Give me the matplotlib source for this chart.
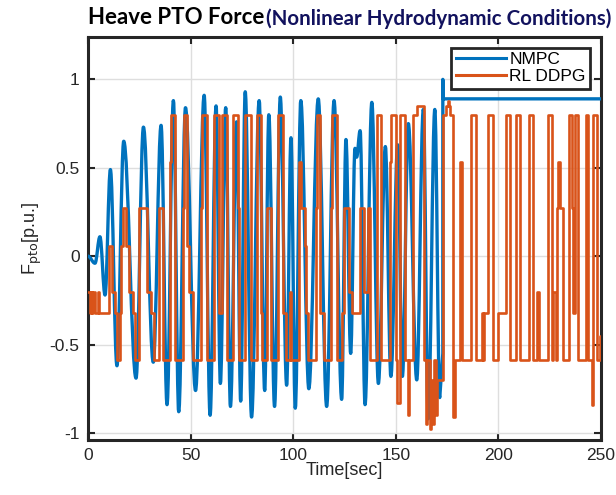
import matplotlib
matplotlib.use('Agg')
import matplotlib.pyplot as plt
from matplotlib.path import Path
from matplotlib.patches import PathPatch
from matplotlib.lines import Line2D

# NMPC: peaks and troughs (time [s], force [p.u.])
T_NMPC = [0.0, 3.4, 5.8, 8.3, 10.9, 14.1, 17.4, 23.4, 27.0, 31.8, 35.6, 38.5,
          41.6, 44.2, 47.5, 52.4, 56.6, 59.5, 62.4, 64.5, 67.1, 69.4, 72.4,
          74.4, 76.6, 79.7, 83.4, 86.1, 88.1, 90.9, 93.7, 96.8, 98.9, 101.0,
          103.7, 107.6, 112.2, 116.3, 119.9, 123.6, 125.7, 128.0, 130.1,
          130.9, 132.6, 135.0, 138.3, 141.5, 144.9, 147.6, 150.9, 153.2,
          156.1, 160.2, 163.4, 165.8, 169.0, 171.4]
V_NMPC = [0.0, -0.04, 0.11, -0.22, 0.49, -0.62, 0.65, -0.69, 0.73, -0.60,
          0.74, -0.84, 0.88, -0.88, 0.84, -0.76, 0.91, -0.90, 0.85, -0.72,
          0.84, -0.85, 0.76, -0.82, 0.93, -0.91, 0.88, -0.76, 0.80, -0.85,
          0.90, -0.73, 0.67, -0.86, 0.88, -0.75, 0.89, -0.85, 0.88, -0.81,
          0.66, -0.55, 0.61, 0.56, 0.71, -0.84, 0.87, -0.72, 0.62, -0.68,
          0.63, -0.68, 0.75, -0.70, 0.83, -0.92, 0.83, -0.80]
# NMPC after the jump (straight segments)
T_NMPC_TAIL = [172.9, 172.9, 173.0, 250.0]
V_NMPC_TAIL = [-0.55, 1.0, 0.89, 0.89]

# RL DDPG: piecewise constant, value holds from each time to the next
T_RL = [0.0, 0.8, 1.4, 2.0, 2.6, 3.2, 4.7, 5.4, 10.1, 11.8, 13.3, 14.1,
        15.6, 16.2, 16.8, 18.6, 20.1, 21.8, 22.8, 25.0, 28.5, 30.6, 32.3,
        34.4, 36.6, 40.1, 40.5, 42.6, 46.1, 46.6, 48.2, 49.2, 51.0, 55.2,
        55.7, 58.0, 61.5, 63.7, 65.1, 67.5, 70.6, 73.0, 73.6, 76.3, 76.7,
        79.2, 82.5, 84.4, 85.0, 87.3, 89.4, 92.5, 95.0, 96.4, 98.2, 99.0,
        103.0, 104.0, 105.5, 106.2, 107.0, 110.9, 111.4, 113.2, 115.0,
        118.4, 119.0, 121.1, 124.0, 124.5, 127.4, 128.6, 132.5, 134.3,
        136.2, 137.4, 140.9, 142.9, 147.3, 147.6, 149.9, 150.4, 151.9,
        154.6, 156.0, 156.6, 158.3, 160.5, 163.5, 164.6, 165.3, 166.5,
        167.2, 168.0, 168.8, 169.6, 170.3, 172.9, 174.6, 175.2, 175.9,
        176.4, 177.8, 178.6, 181.3, 182.1, 186.5, 189.1, 191.8, 192.4,
        193.0, 194.8, 197.2, 199.9, 203.7, 205.6, 208.6, 210.5, 215.1,
        216.7, 219.0, 219.8, 224.0, 226.0, 226.8, 228.0, 228.4, 229.2,
        229.9, 231.7, 234.6, 235.7, 236.4, 237.3, 239.0, 242.5, 243.8,
        245.4, 245.9, 246.3, 247.9, 249.5, 250.0]
V_RL = [-0.20, -0.32, -0.20, -0.32, -0.20, -0.32, -0.20, -0.32, 0.06, -0.20,
        -0.32, -0.59, -0.32, 0.06, 0.27, 0.06, -0.20, -0.32, -0.59, 0.27,
        -0.20, -0.32, -0.59, 0.27, -0.59, 0.53, 0.80, -0.59, 0.27, 0.80,
        0.06, -0.20, -0.59, 0.27, 0.80, -0.59, 0.80, -0.32, 0.80, -0.59,
        0.80, 0.27, -0.59, 0.53, 0.80, -0.59, 0.80, -0.32, -0.59, 0.27,
        -0.59, 0.80, -0.32, -0.59, -0.20, -0.59, 0.53, 0.27, 0.06, -0.32,
        -0.59, 0.27, 0.80, -0.32, -0.59, 0.27, 0.80, -0.59, -0.32, 0.27,
        -0.20, -0.32, 0.27, -0.20, 0.27, -0.59, 0.80, -0.59, 0.53, 0.80,
        -0.59, -0.83, 0.80, -0.59, -0.90, -0.59, 0.80, 0.85, -0.59, -0.95,
        -0.59, -0.98, -0.70, -0.95, -0.59, -0.90, -0.70, 0.80, 0.85, 0.88,
        0.85, 0.80, -0.91, -0.59, 0.53, -0.59, 0.80, -0.59, -0.32, -0.59,
        -0.32, 0.80, -0.59, -0.32, 0.80, -0.59, 0.80, -0.59, 0.80, -0.59,
        -0.20, -0.59, 0.80, -0.59, -0.20, -0.59, 0.27, 0.53, 0.27, -0.59,
        0.80, 0.27, -0.32, 0.80, -0.59, 0.80, -0.59, -0.84, -0.59, 0.80,
        -0.59, -0.45, -0.45]

X_TICKS = [0, 50, 100, 150, 200, 250]
Y_TICKS = [-1, -0.5, 0, 0.5, 1]
Y_TICK_LABELS = ['-1', '-0.5', '0', '0.5', '1']
LABELS = ['NMPC', 'RL DDPG']

BLUE = '#0072BD'
ORANGE = '#D95319'


def wave_path(ts, vs, tail_t, tail_v, k=0.37):
    # smooth half-waves between consecutive extrema (flat tangent at each)
    verts = [(ts[0], vs[0])]
    codes = [Path.MOVETO]
    for t0, v0, t1, v1 in zip(ts[:-1], vs[:-1], ts[1:], vs[1:]):
        dt = t1 - t0
        verts += [(t0 + k * dt, v0), (t1 - k * dt, v1), (t1, v1)]
        codes += [Path.CURVE4] * 3
    for t, v in zip(tail_t, tail_v):
        verts.append((t, v))
        codes.append(Path.LINETO)
    return Path(verts, codes)


plt.rcParams['font.family'] = ['Liberation Sans', 'DejaVu Sans']

fig = plt.figure(figsize=(6.16, 4.95), dpi=100)
ax = fig.add_axes([0.1429, 0.1111, 0.8328, 0.8142])

ax.add_patch(PathPatch(wave_path(T_NMPC, V_NMPC, T_NMPC_TAIL, V_NMPC_TAIL),
                       fill=False, edgecolor=BLUE, lw=2.4, zorder=3,
                       joinstyle='round', capstyle='round'))
ax.step(T_RL, V_RL, where='post', color=ORANGE, lw=1.9, zorder=4)

ax.set_xlim(0, 250)
ax.set_ylim(-1.04, 1.24)
ax.set_xticks(X_TICKS)
ax.set_xticklabels([str(x) for x in X_TICKS])
ax.set_yticks(Y_TICKS)
ax.set_yticklabels(Y_TICK_LABELS)
ax.tick_params(direction='in', top=True, right=True, length=5, width=1.5,
               labelsize=12.5, pad=6, colors='#262626')
ax.grid(True, color='#dedede', lw=1)
ax.set_axisbelow(True)
for s in ax.spines.values():
    s.set_linewidth(2.2)
    s.set_color('#262626')

ax.set_xlabel('Time[sec]', fontsize=13, color='#262626', labelpad=-1)
ax.set_ylabel(r'F$_{\mathrm{pto}}$[p.u.]', fontsize=13, color='#262626',
              labelpad=4)

handles = [Line2D([], [], color=BLUE, lw=2.2), Line2D([], [], color=ORANGE, lw=2.2)]
leg = ax.legend(handles, LABELS, loc='upper right', bbox_to_anchor=(0.9786, 0.9727),
                borderaxespad=0, fontsize=12.5, handlelength=2.9, handletextpad=0.2,
                borderpad=0.25, labelspacing=0.1, fancybox=False, framealpha=1)
leg.get_frame().set_edgecolor('#262626')
leg.get_frame().set_linewidth(2)
leg.set_zorder(6)

# two-part title, second part in navy
renderer = fig.canvas.get_renderer()
t1 = fig.text(88 / 616, 1 - 18 / 495, 'Heave PTO Force', fontsize=16,
              fontweight='bold', family=['Lato', 'DejaVu Sans'], va='center', ha='left')
bb = t1.get_window_extent(renderer=renderer)
fig.text(bb.x1 / fig.bbox.width + 0.003, 1 - 19 / 495,
         '(Nonlinear Hydrodynamic Conditions)', fontsize=14.8, fontweight='bold',
         family=['Lato', 'DejaVu Sans'], color='#12125e', va='center', ha='left')

fig.savefig('out.png', dpi=100)
